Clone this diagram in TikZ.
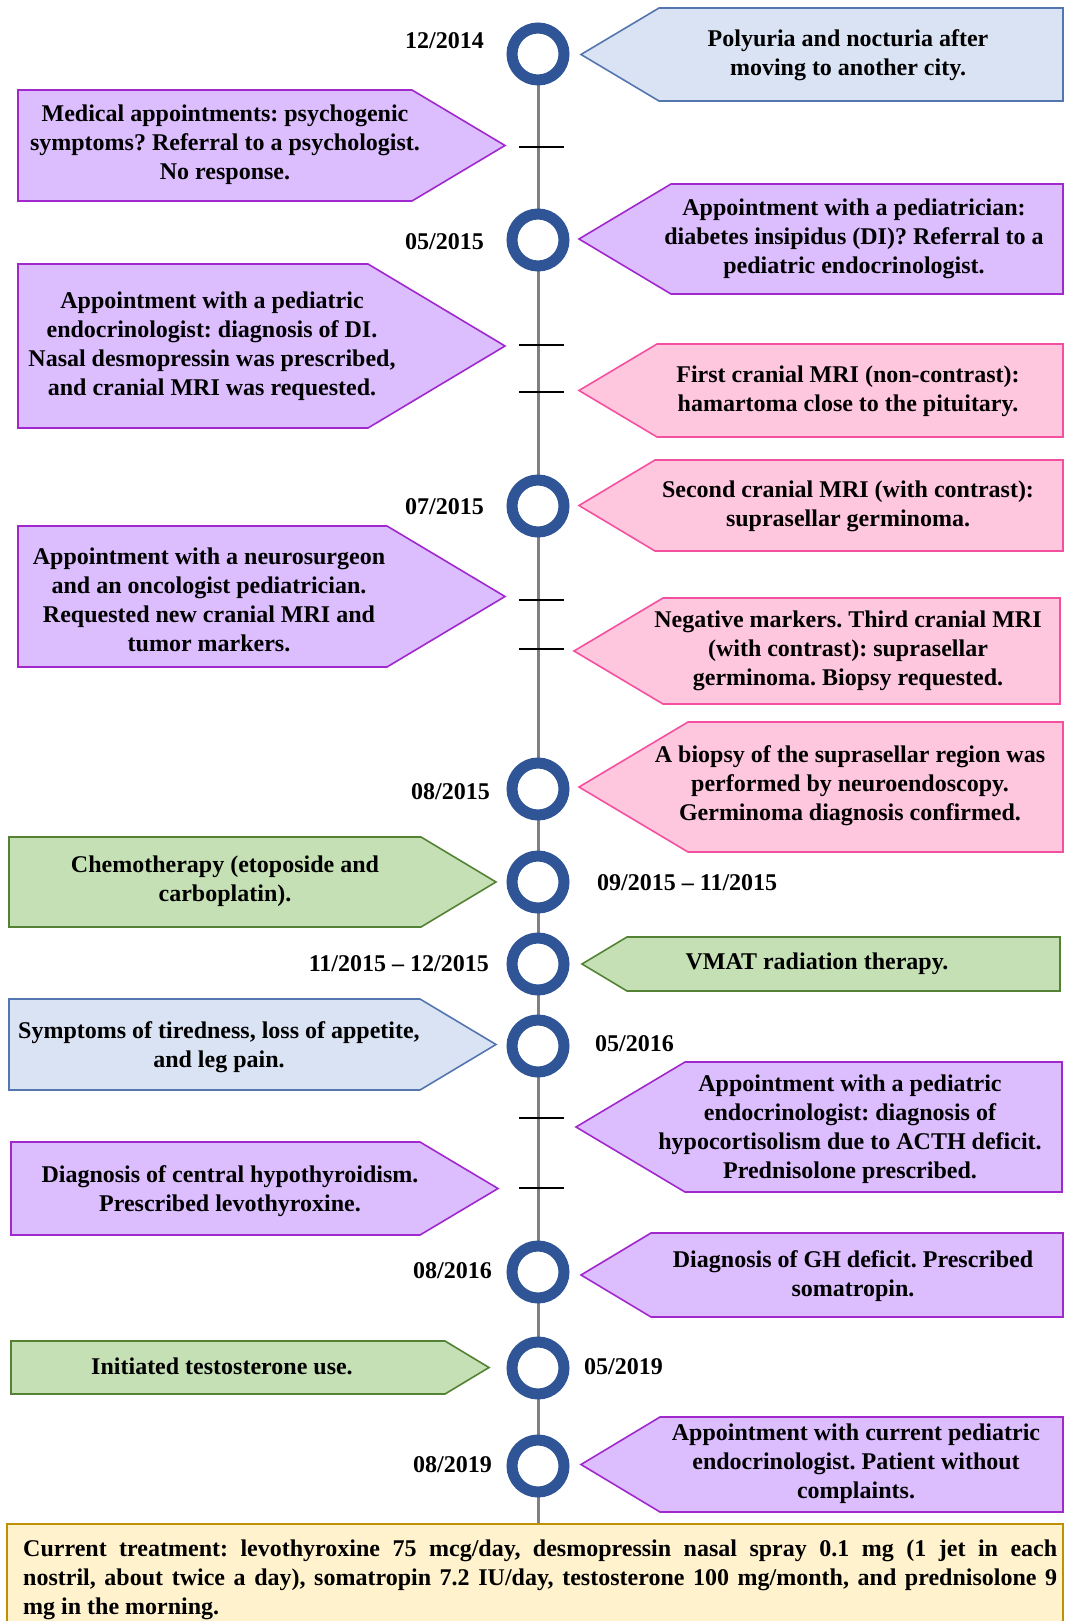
\documentclass[tikz,border=0pt]{standalone}
\usepackage{fontspec}
\setmainfont{Liberation Serif}
\usepackage{tikz}
\usetikzlibrary{positioning}
\frenchspacing
\definecolor{ringblue}{RGB}{47,85,151}
\definecolor{axisgray}{RGB}{128,128,128}
\definecolor{bluefill}{RGB}{218,227,243}
\definecolor{blueline}{RGB}{84,118,176}
\definecolor{purplefill}{RGB}{220,190,255}
\definecolor{purpleline}{RGB}{160,40,205}
\definecolor{pinkfill}{RGB}{255,199,221}
\definecolor{pinkline}{RGB}{245,80,160}
\definecolor{greenfill}{RGB}{197,224,180}
\definecolor{greenline}{RGB}{84,130,53}
\definecolor{treatfill}{RGB}{255,242,204}
\definecolor{treatline}{RGB}{191,144,0}
\tikzset{
  bluebox/.style={draw=blueline, fill=bluefill, line width=1.6pt, line join=miter},
  purplebox/.style={draw=purpleline, fill=purplefill, line width=1.6pt, line join=miter},
  pinkbox/.style={draw=pinkline, fill=pinkfill, line width=1.6pt, line join=miter},
  greenbox/.style={draw=greenline, fill=greenfill, line width=1.6pt, line join=miter},
  treatbox/.style={draw=treatline, fill=treatfill, line width=1.6pt},
  txt/.style={inner sep=0pt, align=center, font=\bfseries\fontsize{24}{29}\selectfont\frenchspacing},
  date/.style={inner sep=0pt, font=\bfseries\fontsize{24}{29}\selectfont},
  ring/.style={circle, draw=ringblue, fill=white, line width=11pt, minimum size=52pt, inner sep=0pt},
  axis/.style={thick, color=axisgray, line width=3pt},
  tickmark/.style={black, line width=2pt}
}
\begin{document}
\begin{tikzpicture}[x=1pt, y=-1pt]
  \useasboundingbox (0,0) rectangle (1065,1621);
  \clip (0,0) rectangle (1065,1621);

  % Time axis
  \coordinate (axisend) at (538,1524);
  \coordinate (axistop) at (538,54);
  \draw[axis] (axistop) -- (axisend);

  % Ticks between dated events
  \draw[tickmark] (519,147) -- (564,147);
  \draw[tickmark] (519,345) -- (564,345);
  \draw[tickmark] (519,392) -- (564,392);
  \draw[tickmark] (519,600) -- (564,600);
  \draw[tickmark] (519,649) -- (564,649);
  \draw[tickmark] (519,1118) -- (564,1118);
  \draw[tickmark] (519,1188) -- (564,1188);

  % Dated points on the axis
  \node[ring] (c1) at (538,54) {};
  \node[ring] (c2) at (538,240) {};
  \node[ring] (c3) at (538,506) {};
  \node[ring] (c4) at (538,789) {};
  \node[ring] (c5) at (538,882) {};
  \node[ring] (c6) at (538,964) {};
  \node[ring] (c7) at (538,1046) {};
  \node[ring] (c8) at (538,1272) {};
  \node[ring] (c9) at (538,1368) {};
  \node[ring] (c10) at (538,1466) {};

  % Dates
  \node[date, anchor=east] (d1) at (484,41) {12/2014};
  \node[date, anchor=east] (d2) at (484,242) {05/2015};
  \node[date, anchor=east] (d3) at (484,507) {07/2015};
  \node[date, anchor=east] (d4) at (490,792) {08/2015};
  \node[date, anchor=west] (d5) at (597,883) {09/2015 -- 11/2015};
  \node[date, anchor=east] (d6) at (489,964) {11/2015 -- 12/2015};
  \node[date, anchor=west] (d7) at (595,1044) {05/2016};
  \node[date, anchor=east] (d8) at (492,1271) {08/2016};
  \node[date, anchor=west] (d9) at (584,1367) {05/2019};
  \node[date, anchor=east] (d10) at (492,1465) {08/2019};

  % Polyuria
  \draw[bluebox] (581,54.5) -- (659,8) -- (1063,8) -- (1063,101) -- (659,101) -- cycle;
  \node[txt] (polyuria) at (848,55) {Polyuria and nocturia after\\moving to another city.};

  % Psychologist referral
  \draw[purplebox] (18,90) -- (412,90) -- (505,145.5) -- (412,201) -- (18,201) -- cycle;
  \node[txt] (psych) at (225,145) {Medical appointments: psychogenic\\symptoms? Referral to a psychologist.\\No response.};

  % Pediatrician
  \draw[purplebox] (579,239) -- (671,184) -- (1063,184) -- (1063,294) -- (671,294) -- cycle;
  \node[txt] (pediatr) at (854,239) {Appointment with a pediatrician:\\diabetes insipidus (DI)? Referral to a\\pediatric endocrinologist.};

  % Diagnosis of DI
  \draw[purplebox] (18,264) -- (368,264) -- (505,346) -- (368,428) -- (18,428) -- cycle;
  \node[txt] (endo) at (212,346) {Appointment with a pediatric\\endocrinologist: diagnosis of DI.\\Nasal desmopressin was prescribed,\\and cranial MRI was requested.};

  % First MRI
  \draw[pinkbox] (579,390.5) -- (657,344) -- (1063,344) -- (1063,437) -- (657,437) -- cycle;
  \node[txt] (mri1) at (848,391) {First cranial MRI (non-contrast):\\hamartoma close to the pituitary.};

  % Second MRI
  \draw[pinkbox] (579,505.5) -- (655,460) -- (1063,460) -- (1063,551) -- (655,551) -- cycle;
  \node[txt] (mri2) at (848,506) {Second cranial MRI (with contrast):\\suprasellar germinoma.};

  % Neurosurgeon
  \draw[purplebox] (18,526) -- (387,526) -- (505,596.5) -- (387,667) -- (18,667) -- cycle;
  \node[txt] (neuro) at (209,600) {Appointment with a neurosurgeon\\and an oncologist pediatrician.\\Requested new cranial MRI and\\tumor markers.};

  % Third MRI
  \draw[pinkbox] (574,651) -- (663,598) -- (1060,598) -- (1060,704) -- (663,704) -- cycle;
  \node[txt] (mri3) at (848,651) {Negative markers. Third cranial MRI\\(with contrast): suprasellar\\germinoma. Biopsy requested.};

  % Biopsy
  \draw[pinkbox] (579,787) -- (688,722) -- (1063,722) -- (1063,852) -- (688,852) -- cycle;
  \node[txt] (biopsy) at (850,786) {A biopsy of the suprasellar region was\\performed by neuroendoscopy.\\Germinoma diagnosis confirmed.};

  % Chemotherapy
  \draw[greenbox] (9,837) -- (421,837) -- (496,882) -- (421,927) -- (9,927) -- cycle;
  \node[txt] (chemo) at (225,881) {Chemotherapy (etoposide and\\carboplatin).};

  % Radiation therapy
  \draw[greenbox] (582,964) -- (627,937) -- (1060,937) -- (1060,991) -- (627,991) -- cycle;
  \node[txt] (vmat) at (817,964) {VMAT radiation therapy.};

  % Tiredness
  \draw[bluebox] (9,999) -- (420,999) -- (496,1044.5) -- (420,1090) -- (9,1090) -- cycle;
  \node[txt] (tired) at (219,1047) {Symptoms of tiredness, loss of appetite,\\and leg pain.};

  % Hypocortisolism
  \draw[purplebox] (576,1127) -- (685,1062) -- (1062,1062) -- (1062,1192) -- (685,1192) -- cycle;
  \node[txt] (acth) at (850,1129) {Appointment with a pediatric\\endocrinologist: diagnosis of\\hypocortisolism due to ACTH deficit.\\Prednisolone prescribed.};

  % Hypothyroidism
  \draw[purplebox] (11,1142) -- (420,1142) -- (498,1188.5) -- (420,1235) -- (11,1235) -- cycle;
  \node[txt] (thyro) at (230,1191) {Diagnosis of central hypothyroidism.\\Prescribed levothyroxine.};

  % GH deficit
  \draw[purplebox] (581,1275) -- (651,1233) -- (1063,1233) -- (1063,1317) -- (651,1317) -- cycle;
  \node[txt] (gh) at (853,1276) {Diagnosis of GH deficit. Prescribed\\somatropin.};

  % Testosterone
  \draw[greenbox] (11,1341) -- (445,1341) -- (489,1367.5) -- (445,1394) -- (11,1394) -- cycle;
  \node[txt] (testo) at (222,1366) {Initiated testosterone use.};

  % Current endocrinologist
  \draw[purplebox] (581,1464.5) -- (660,1417) -- (1063,1417) -- (1063,1512) -- (660,1512) -- cycle;
  \node[txt] (current) at (856,1464) {Appointment with current pediatric\\endocrinologist. Patient without\\complaints.};

  % Current treatment
  \draw[treatbox] (7,1524) rectangle (1063,1660);
  \node[txt, align=justify, text width=1034pt, anchor=north west] (treat) at (23,1540) {Current treatment: levothyroxine 75 mcg/day, desmopressin nasal spray 0.1 mg (1 jet in each\linebreak nostril, about twice a day), somatropin 7.2 IU/day, testosterone 100 mg/month, and prednisolone 9\linebreak mg in the morning.};
\end{tikzpicture}
\end{document}
